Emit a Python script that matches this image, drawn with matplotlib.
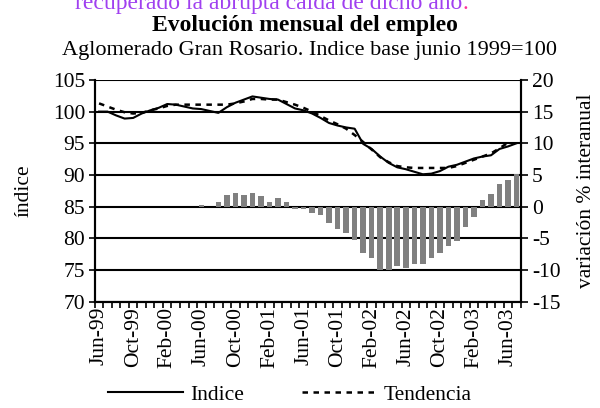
import numpy as np
import matplotlib
matplotlib.use("Agg")
import matplotlib.pyplot as plt
from matplotlib.lines import Line2D

plt.rcParams['font.family'] = ['Liberation Serif', 'DejaVu Serif']

month_names = ['Jan', 'Feb', 'Mar', 'Apr', 'May', 'Jun', 'Jul', 'Aug', 'Sep', 'Oct', 'Nov', 'Dec']
n_months = 50  # Jun-99 .. Jul-03
labels_all = []
for k in range(n_months):
    m = (5 + k) % 12
    y = 1999 + (5 + k) // 12
    labels_all.append(f"{month_names[m]}-{y % 100:02d}")

indice = [100.0, 100.0, 99.4, 98.9, 99.0, 99.7, 100.2, 100.6, 101.2, 101.1,
          100.8, 100.5, 100.4, 100.1, 99.8, 100.7, 101.4, 101.9, 102.4, 102.2,
          102.0, 101.9, 101.2, 100.5, 100.2, 99.7, 99.0, 98.2, 97.8, 97.5,
          97.3, 94.9, 94.1, 92.9, 91.9, 91.2, 90.9, 90.5, 90.1, 90.2,
          90.6, 91.3, 91.6, 92.1, 92.6, 92.9, 93.1, 94.1, 94.5, 95.0]

tendencia = [101.3, 100.8, 100.3, 99.9, 99.7, 99.8, 100.2, 100.5, 100.9, 101.1,
             101.1, 101.1, 101.1, 101.1, 101.1, 101.1, 101.3, 101.6, 102.0, 102.0,
             101.9, 101.9, 101.5, 101.1, 100.6, 100.0, 99.3, 98.6, 98.0, 97.3,
             96.3, 95.2, 94.0, 92.8, 92.0, 91.4, 91.2, 91.1, 91.1, 91.1,
             91.1, 91.1, 91.4, 91.9, 92.4, 92.9, 93.4, 94.2, 95.1, np.nan]

variacion = [np.nan] * 12 + [0.3, 0.0, 0.65, 1.9, 2.2, 1.9, 2.2, 1.6, 0.7, 1.3,
                             0.7, -0.35, -0.35, -1.0, -1.3, -2.6, -3.6, -4.2, -5.3, -7.4,
                             -8.1, -10.0, -10.0, -9.4, -9.7, -9.0, -9.0, -8.1, -7.4, -6.2,
                             -5.5, -3.3, -1.7, 1.0, 2.0, 3.6, 4.2, 5.2]

left_ticks = [70, 75, 80, 85, 90, 95, 100, 105]
right_ticks = [-15, -10, -5, 0, 5, 10, 15, 20]

FS = 15.5

fig = plt.figure(figsize=(6.0, 4.08), dpi=100)
ax = fig.add_axes([0.158, 0.261, 0.710, 0.543])
ax2 = ax.twinx()

x = np.arange(n_months)

ax2.bar(x, np.nan_to_num(variacion), width=0.65, color='#808080', zorder=2)
for t in right_ticks:
    ax2.axhline(t, color='black', lw=1.5, zorder=1.5)
ax2.set_ylim(-15, 20)
ax2.set_yticks(right_ticks)
ax2.set_yticklabels([str(t) for t in right_ticks], fontsize=FS)
ax2.tick_params(axis='y', direction='out', length=5, width=1.2, pad=3)
ax2.set_ylabel("variación % interanual", fontsize=FS, labelpad=12)
ax2.set_xlim(-0.5, n_months - 0.5)

ax.set_zorder(ax2.get_zorder() + 1)
ax.patch.set_visible(False)

ax.plot(x, indice, color='black', lw=1.5, zorder=4)
ax.plot(x, tendencia, color='black', lw=1.8, ls=(0, (2.2, 2.2)), zorder=3)
ax.set_ylim(70, 105)
ax.set_xlim(-0.5, n_months - 0.5)
ax.set_yticks(left_ticks)
ax.set_yticklabels([str(t) for t in left_ticks], fontsize=FS)
ax.tick_params(axis='y', direction='out', length=4, width=1.2, pad=3)
ax.set_ylabel("índice", fontsize=FS, labelpad=14)

major = list(range(0, n_months, 4))
ax.set_xticks(major)
ax.set_xticklabels([labels_all[i] for i in major], rotation=90, fontsize=FS)
ax.set_xticks(np.arange(-0.5, n_months, 1), minor=True)
ax.tick_params(axis='x', which='major', length=0, pad=4)
ax.tick_params(axis='x', which='minor', direction='out', length=4, width=1.2)

for a in (ax, ax2):
    for s in a.spines.values():
        s.set_linewidth(1.5)
    a.spines['top'].set_visible(False)

t1 = fig.text(0.125, 0.978, "recuperado la abrupta caída de dicho año", color='#A040F0',
              fontsize=17, ha='left', va='baseline')
fig.canvas.draw()
bb = t1.get_window_extent()
fig.text(bb.x1 / fig.bbox.width, 0.978, ".", color='#FF3399', fontsize=17,
         ha='left', va='baseline')
fig.text(0.508, 0.938, "Evolución mensual del empleo", fontsize=17, fontweight='bold',
         ha='center', va='center')
fig.text(0.515, 0.875, "Aglomerado Gran Rosario. Indice base junio 1999=100", fontsize=16,
         ha='center', va='center')

handles = [Line2D([], [], color='black', lw=1.5),
           Line2D([], [], color='black', lw=1.8, ls=(0, (2.2, 2.2)))]
fig.legend(handles, ["Indice", "Tendencia"], loc='center', bbox_to_anchor=(0.483, 0.032),
           ncol=2, frameon=False, fontsize=FS, handlelength=3.5, columnspacing=2.7,
           handletextpad=0.3, borderpad=0)

fig.savefig("out.png", dpi=100)
